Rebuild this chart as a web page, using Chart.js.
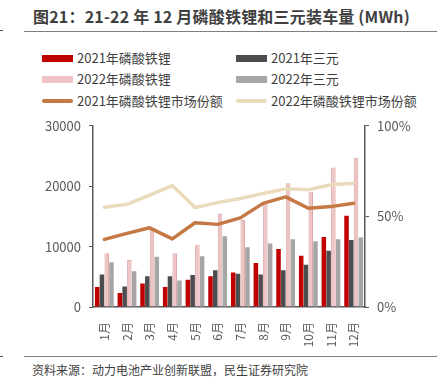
<!DOCTYPE html>
<html><head><meta charset="utf-8">
<script src="https://cdn.jsdelivr.net/npm/chart.js@4/dist/chart.umd.min.js"></script>
<style>
html,body{margin:0;padding:0;background:#fff;width:437px;height:387px;overflow:hidden;font-family:"Noto Sans CJK SC","Noto Sans",sans-serif;}
#title{position:absolute;left:33px;top:4px;font-size:16px;font-weight:bold;color:#3f3f3f;white-space:nowrap;letter-spacing:0.2px;}
.hl{position:absolute;left:24px;width:413px;height:0;border-top:1.5px solid #7f7f7f;}
.mk{position:absolute;left:0;width:3px;height:0;border-top:1px solid #555;}
.lg{position:absolute;font-size:13px;color:#404040;white-space:nowrap;line-height:16px;}
.sw{position:absolute;width:31px;}
#footer{position:absolute;left:32px;top:361px;font-size:12px;color:#404040;white-space:nowrap;}
#wrap{position:absolute;left:0;top:110px;width:437px;height:240px;}
</style></head><body>
<div id="title">图21：21-22 年 12 月磷酸铁锂和三元装车量 (MWh)</div>
<div class="hl" style="top:31px"></div>
<div class="mk" style="top:30px"></div>
<div id="legend"></div>
<div id="wrap"><canvas id="c" width="437" height="240"></canvas></div>
<div class="hl" style="top:356px"></div>
<div class="mk" style="top:356px"></div>
<div id="footer">资料来源：动力电池产业创新联盟，民生证券研究院</div>
<script>
const categories = ['1月','2月','3月','4月','5月','6月','7月','8月','9月','10月','11月','12月'];
const lfp2021 = [3300,2300,3900,3300,4500,5100,5700,7300,9600,8500,11600,15100];
const ncm2021 = [5400,3400,5100,5100,5300,6100,5500,5400,6100,7000,9300,11100];
const lfp2022 = [8900,7800,12900,8900,10300,15500,14400,17200,20500,19100,23100,24700];
const ncm2022 = [7400,5900,8300,4400,8400,11700,9900,10500,11200,10900,11200,11500];
const share2021 = [37.3,40.6,43.7,37.6,46.5,45.6,49.2,57.2,60.8,54.5,55.4,57.2];
const share2022 = [55.0,56.7,61.7,67.0,54.9,57.6,59.9,62.6,65.2,64.7,67.5,68.3];
const leftTicks = [0,10000,20000,30000];
const rightTicks = [0,50,100];

const C = {r:'#c00000', d:'#4d4d4f', p:'#efc3c3', g:'#a6a6a6', l1:'#c47843', l2:'#eadbbd'};

const legendItems = [
  {t:'2021年磷酸铁锂', c:C.r, type:'bar', x:42, y:58},
  {t:'2021年三元', c:C.d, type:'bar', x:236, y:58},
  {t:'2022年磷酸铁锂', c:C.p, type:'bar', x:42, y:79},
  {t:'2022年三元', c:C.g, type:'bar', x:236, y:79},
  {t:'2021年磷酸铁锂市场份额', c:C.l1, type:'line', x:42, y:101},
  {t:'2022年磷酸铁锂市场份额', c:C.l2, type:'line', x:236, y:101}
];
const lg = document.getElementById('legend');
legendItems.forEach(it=>{
  const s=document.createElement('div'); s.className='sw';
  if(it.type==='bar'){ s.style.height='7px'; s.style.top=(it.y-3.5)+'px'; }
  else { s.style.height='4px'; s.style.borderRadius='2px'; s.style.top=(it.y-2)+'px'; }
  s.style.left=it.x+'px'; s.style.background=it.c; lg.appendChild(s);
  const t=document.createElement('div'); t.className='lg'; t.textContent=it.t;
  t.style.left=(it.x+35)+'px'; t.style.top=(it.y-8)+'px'; lg.appendChild(t);
});

const axisColor = '#595959';
const tickFont = {family:'"Noto Sans CJK SC","Noto Sans",sans-serif', size:13};
new Chart(document.getElementById('c'), {
  data:{
    labels:categories,
    datasets:[
      {type:'line', data:share2021, yAxisID:'y1', borderColor:C.l1, borderWidth:3.5, pointRadius:0, tension:0, borderCapStyle:'round', borderJoinStyle:'round', order:1},
      {type:'line', data:share2022, yAxisID:'y1', borderColor:C.l2, borderWidth:3.5, pointRadius:0, tension:0, borderCapStyle:'round', borderJoinStyle:'round', order:0},
      {type:'bar', data:lfp2021, yAxisID:'y', backgroundColor:C.r, categoryPercentage:0.84, barPercentage:0.95, order:5},
      {type:'bar', data:ncm2021, yAxisID:'y', backgroundColor:C.d, categoryPercentage:0.84, barPercentage:0.95, order:5},
      {type:'bar', data:lfp2022, yAxisID:'y', backgroundColor:C.p, borderColor:'#d9a8a8', borderWidth:{top:1,left:1,right:1,bottom:0}, categoryPercentage:0.84, barPercentage:0.95, order:5},
      {type:'bar', data:ncm2022, yAxisID:'y', backgroundColor:C.g, categoryPercentage:0.84, barPercentage:0.95, order:5}
    ]
  },
  options:{
    responsive:false, animation:false, devicePixelRatio:1,
    layout:{padding:{top:10,left:0,right:0,bottom:0}},
    plugins:{legend:{display:false}, tooltip:{enabled:false}},
    scales:{
      x:{
        grid:{display:false},
        border:{display:true, color:axisColor, width:1.5},
        ticks:{color:'#595959', font:{family:tickFont.family,size:12}, minRotation:90, maxRotation:90, padding:7},
        afterFit:(s)=>{s.height=43;}
      },
      y:{
        position:'left', min:0, max:30000,
        afterBuildTicks:(s)=>{s.ticks=leftTicks.map(v=>({value:v}));},
        grid:{drawOnChartArea:false, drawTicks:true, tickLength:4, color:axisColor},
        border:{display:true, color:axisColor, width:1.5},
        ticks:{color:'#595959', font:tickFont, padding:8, callback:(v)=>String(v)},
        afterFit:(s)=>{s.width=93;}
      },
      y1:{
        position:'right', min:0, max:100,
        afterBuildTicks:(s)=>{s.ticks=rightTicks.map(v=>({value:v}));},
        grid:{drawOnChartArea:false, drawTicks:true, tickLength:4, color:axisColor},
        border:{display:true, color:axisColor, width:1.5},
        ticks:{color:'#595959', font:tickFont, padding:8, callback:(v)=>v+'%'},
        afterFit:(s)=>{s.width=72;}
      }
    }
  }
});
</script>
</body></html>
